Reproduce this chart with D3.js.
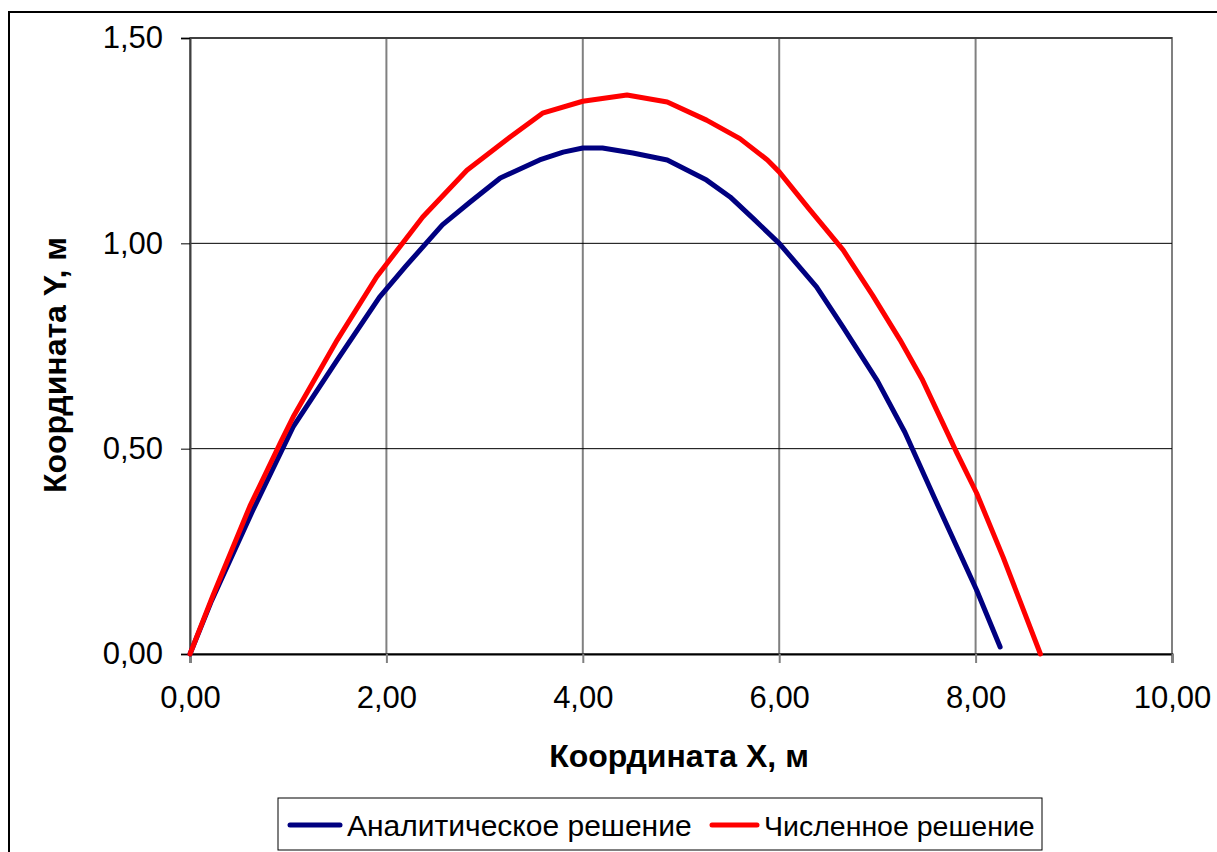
<!DOCTYPE html>
<html>
<head>
<meta charset="utf-8">
<script src="https://cdn.jsdelivr.net/npm/d3@7"></script>
<style>
  body { margin: 0; background: #fff; }
  svg { display: block; font-family: Arial, "Liberation Sans", sans-serif; }
</style>
</head>
<body>
<svg id="chart" width="1217" height="852"></svg>
<script>
// analytic solution (x, y), metres
const analyticX = [0, 0.22, 0.64, 1.05, 1.50, 1.93, 2.20, 2.57, 2.85, 3.16, 3.56, 3.80, 4.00, 4.20, 4.51, 4.86, 5.26, 5.50, 5.75, 6.00, 6.38, 6.65, 7.00, 7.28, 7.60, 8.01, 8.25];
const analyticY = [0, 0.13, 0.35, 0.553, 0.716, 0.869, 0.945, 1.045, 1.10, 1.159, 1.203, 1.222, 1.232, 1.232, 1.22, 1.203, 1.154, 1.113, 1.057, 1.00, 0.894, 0.796, 0.665, 0.54, 0.37, 0.156, 0.017];

// numerical solution
const numericX = [0, 0.23, 0.61, 0.92, 1.05, 1.50, 1.90, 2.37, 2.82, 3.26, 3.59, 4.00, 4.45, 4.86, 5.26, 5.60, 5.88, 6.00, 6.30, 6.65, 6.95, 7.23, 7.46, 7.81, 8.01, 8.28, 8.66];
const numericY = [0, 0.14, 0.36, 0.514, 0.577, 0.765, 0.918, 1.064, 1.178, 1.259, 1.317, 1.346, 1.361, 1.344, 1.30, 1.255, 1.203, 1.174, 1.085, 0.984, 0.874, 0.765, 0.667, 0.489, 0.392, 0.236, 0.0];

const xTicks = [0, 2, 4, 6, 8, 10];
const yTicks = [0, 0.5, 1.0, 1.5];

const seriesNames = ['Аналитическое решение', 'Численное решение'];
const seriesColors = ['#000080', '#ff0000'];

const svg = d3.select('#chart');
const margin = { left: 190, top: 38, right: 1172, bottom: 654 };

const x = d3.scaleLinear().domain([0, 10]).range([margin.left, margin.right]);
const y = d3.scaleLinear().domain([0, 1.5]).range([margin.bottom, margin.top]);
const fmt = v => d3.format('.2f')(v).replace('.', ',');

// outer chart border (runs past the window on right/bottom)
svg.append('rect')
  .attr('x', 9).attr('y', 12)
  .attr('width', 1240).attr('height', 900)
  .attr('fill', 'none').attr('stroke', '#000').attr('stroke-width', 2);

// plot area border
svg.append('rect')
  .attr('x', margin.left).attr('y', margin.top)
  .attr('width', margin.right - margin.left).attr('height', margin.bottom - margin.top)
  .attr('fill', '#fff').attr('stroke', '#808080').attr('stroke-width', 2);

// vertical grid
svg.append('g')
  .selectAll('line')
  .data(xTicks.slice(1))
  .join('line')
  .attr('x1', d => x(d)).attr('x2', d => x(d))
  .attr('y1', margin.top).attr('y2', margin.bottom)
  .attr('stroke', '#808080').attr('stroke-width', 2);

// horizontal grid
svg.append('g')
  .selectAll('line')
  .data(yTicks.slice(1))
  .join('line')
  .attr('x1', margin.left).attr('x2', margin.right)
  .attr('y1', d => y(d)).attr('y2', d => y(d))
  .attr('stroke', '#000').attr('stroke-width', 1);

// axes
const xAxis = svg.append('g')
  .attr('transform', `translate(0,${margin.bottom})`)
  .call(d3.axisBottom(x).tickValues(xTicks).tickFormat(fmt).tickSize(9).tickPadding(23));
xAxis.select('.domain').attr('stroke', '#000').attr('stroke-width', 2);
xAxis.selectAll('.tick line').attr('stroke', '#808080').attr('stroke-width', 2);
xAxis.selectAll('text').attr('font-size', 31).attr('fill', '#000')
  .attr('font-family', 'Arial, "Liberation Sans", sans-serif');

const yAxis = svg.append('g')
  .attr('transform', `translate(${margin.left},0)`)
  .call(d3.axisLeft(y).tickValues(yTicks).tickFormat(fmt).tickSize(9).tickPadding(18));
yAxis.select('.domain').attr('stroke', '#404040').attr('stroke-width', 2);
yAxis.selectAll('.tick line').attr('stroke', '#000').attr('stroke-width', 1);
yAxis.selectAll('text').attr('font-size', 31).attr('fill', '#000')
  .attr('font-family', 'Arial, "Liberation Sans", sans-serif');

// axis titles
svg.append('text')
  .attr('x', 679).attr('y', 767)
  .attr('text-anchor', 'middle')
  .attr('font-size', 32).attr('font-weight', 'bold')
  .text('Координата X, м');

svg.append('text')
  .attr('transform', 'translate(66,365) rotate(-90)')
  .attr('text-anchor', 'middle')
  .attr('font-size', 32).attr('font-weight', 'bold')
  .text('Координата Y, м');

// curves
const line = d3.line().x(d => x(d[0])).y(d => y(d[1]));
const series = [
  d3.zip(analyticX, analyticY),
  d3.zip(numericX, numericY)
];

svg.append('g')
  .selectAll('path')
  .data(series)
  .join('path')
  .attr('d', line)
  .attr('fill', 'none')
  .attr('stroke', (d, i) => seriesColors[i])
  .attr('stroke-width', 5)
  .attr('stroke-linejoin', 'round')
  .attr('stroke-linecap', 'round');

// legend
const legend = svg.append('g');
legend.append('rect')
  .attr('x', 278).attr('y', 798)
  .attr('width', 764).attr('height', 52)
  .attr('fill', '#fff').attr('stroke', '#000').attr('stroke-width', 1);

const legendItems = [
  { name: seriesNames[0], color: seriesColors[0], x0: 290, tx: 347, fs: 30 },
  { name: seriesNames[1], color: seriesColors[1], x0: 712, tx: 764, fs: 28.5 }
];
legendItems.forEach(it => {
  legend.append('line')
    .attr('x1', it.x0).attr('x2', it.tx - 7)
    .attr('y1', 825).attr('y2', 825)
    .attr('stroke', it.color).attr('stroke-width', 5)
    .attr('stroke-linecap', 'round');
  legend.append('text')
    .attr('x', it.tx).attr('y', 836)
    .attr('font-size', it.fs)
    .text(it.name);
});
</script>
</body>
</html>
